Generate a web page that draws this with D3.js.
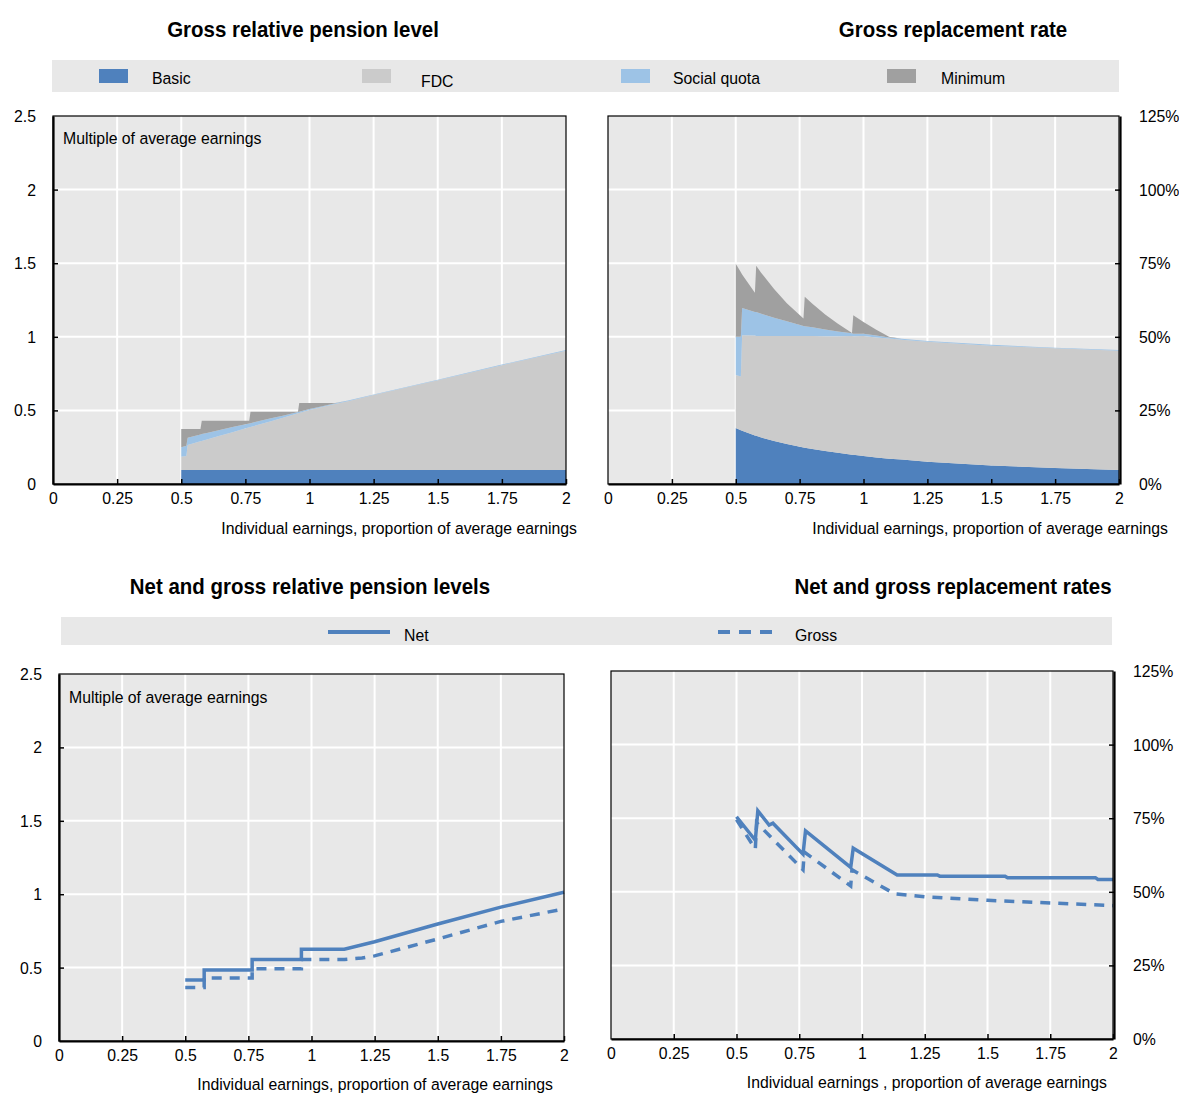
<!DOCTYPE html>
<html>
<head>
<meta charset="utf-8">
<script src="https://cdn.jsdelivr.net/npm/d3@7"></script>
<style>
body { margin: 0; background: #fff; }
text { font-family: "Liberation Sans", Arial, sans-serif; fill: #000; }
</style>
</head>
<body>
<div id="chart"></div>
<script>
// ---- data ----
var xTicks = [0, 0.25, 0.5, 0.75, 1, 1.25, 1.5, 1.75, 2];
var xTickLabels = ["0", "0.25", "0.5", "0.75", "1", "1.25", "1.5", "1.75", "2"];
var levelTicks = [0, 0.5, 1, 1.5, 2, 2.5];
var levelTickLabels = ["0", "0.5", "1", "1.5", "2", "2.5"];
var rateTicks = [0, 25, 50, 75, 100, 125];
var rateTickLabels = ["0%", "25%", "50%", "75%", "100%", "125%"];

var components = ["basic", "fdc", "social", "minimum"];
var componentNames = ["Basic", "FDC", "Social quota", "Minimum"];

// individual earnings (proportion of average earnings) for the stacked panels
var earnings = [0.5, 0.52, 0.525, 0.575, 0.58, 0.6, 0.65, 0.7, 0.765, 0.77, 0.8, 0.85, 0.9, 0.955, 0.96, 1.0, 1.05, 1.1, 1.15, 1.25, 1.5, 1.75, 2.0];

// gross relative pension level, multiple of average earnings
var levelBasic   = [0.095, 0.095, 0.095, 0.095, 0.095, 0.095, 0.095, 0.095, 0.095, 0.095, 0.095, 0.095, 0.095, 0.095, 0.095, 0.095, 0.095, 0.095, 0.095, 0.095, 0.095, 0.095, 0.095];
var levelFdc     = [0.09, 0.095, 0.17, 0.195, 0.197, 0.207, 0.232, 0.257, 0.29, 0.292, 0.307, 0.332, 0.357, 0.385, 0.387, 0.408, 0.428, 0.448, 0.468, 0.509, 0.61, 0.712, 0.811];
var levelSocial  = [0.065, 0.07, 0.049, 0.046, 0.047, 0.045, 0.04, 0.035, 0.026, 0.026, 0.024, 0.019, 0.014, 0.009, 0.008, 0.007, 0.006, 0.005, 0.004, 0.004, 0.004, 0.004, 0.004];
var levelMinimum = [0.124, 0.114, 0.06, 0.038, 0.091, 0.083, 0.063, 0.043, 0.019, 0.077, 0.064, 0.044, 0.024, 0.001, 0.06, 0.04, 0.021, 0.002, 0, 0, 0, 0, 0];

// gross replacement rate, %
var rateBasic   = [19, 18.3, 18.1, 16.5, 16.4, 15.8, 14.6, 13.6, 12.4, 12.3, 11.9, 11.2, 10.6, 9.9, 9.9, 9.5, 9.0, 8.6, 8.3, 7.6, 6.3, 5.4, 4.75];
var rateFdc     = [18, 18.2, 32.4, 33.9, 33.9, 34.5, 35.7, 36.7, 37.9, 38.0, 38.35, 39.0, 39.6, 40.4, 40.3, 40.8, 40.8, 40.8, 40.7, 40.7, 40.7, 40.7, 40.55];
var rateSocial  = [13, 13.5, 9.3, 8.0, 8.1, 7.5, 6.2, 5.0, 3.4, 3.3, 3.0, 2.3, 1.6, 0.9, 0.8, 0.7, 0.6, 0.4, 0.3, 0.3, 0.3, 0.2, 0.2];
var rateMinimum = [24.8, 21.9, 11.4, 6.6, 15.7, 13.9, 9.7, 6.1, 2.5, 10.0, 8.0, 5.1, 2.6, 0.1, 6.3, 4.0, 2.0, 0.2, 0, 0, 0, 0, 0];

// net and gross relative pension levels
var netLevelX  = [0.5, 0.575, 0.575, 0.765, 0.765, 0.96, 0.96, 1.13, 1.25, 1.5, 1.75, 2.0];
var netLevel   = [0.415, 0.415, 0.484, 0.484, 0.556, 0.556, 0.625, 0.625, 0.676, 0.797, 0.912, 1.013];
var grossLevelX = [0.5, 0.575, 0.575, 0.765, 0.765, 0.96, 0.96, 1.13, 1.2, 1.25, 1.5, 1.75, 2.0];
var grossLevel  = [0.365, 0.365, 0.43, 0.43, 0.493, 0.493, 0.555, 0.555, 0.565, 0.58, 0.695, 0.815, 0.9];

// net and gross replacement rates, %
var netRateX = [0.5, 0.575, 0.585, 0.63, 0.645, 0.765, 0.775, 0.955, 0.965, 1.14, 1.3, 1.31, 1.57, 1.58, 1.93, 1.94, 2.0];
var netRate  = [75.5, 67.5, 77.5, 72.7, 73.3, 62.8, 70.7, 58.3, 64.8, 55.7, 55.7, 55.3, 55.3, 54.8, 54.8, 54.2, 54.2];
var grossRateX = [0.5, 0.575, 0.58, 0.765, 0.77, 0.955, 0.96, 1.13, 1.25, 1.5, 1.75, 2.0];
var grossRate  = [74.5, 64.5, 73.5, 57.5, 63.5, 52, 57.5, 49.3, 48.3, 47.1, 46.2, 45.3];

// ---- drawing ----
var width = 1179, height = 1093;
var blue = "#4f81bd";
var color = d3.scaleOrdinal().domain(components).range([blue, "#cbcbcb", "#9dc3e6", "#a0a0a0"]);

var svg = d3.select("#chart").append("svg")
  .attr("width", width)
  .attr("height", height);

function panel(p) {
  var x = d3.scaleLinear().domain([0, 2]).range([p.l, p.r]);
  var y = d3.scaleLinear().domain([0, p.ymax]).range([p.b, p.t]);
  var g = svg.append("g");
  g.append("rect")
    .attr("x", p.l).attr("y", p.t)
    .attr("width", p.r - p.l).attr("height", p.b - p.t)
    .attr("fill", "#e8e8e8");
  g.selectAll(".vgrid").data(xTicks.slice(1, -1)).join("line")
    .attr("x1", d => x(d)).attr("x2", d => x(d))
    .attr("y1", p.t).attr("y2", p.b)
    .attr("stroke", "#fff").attr("stroke-width", 2);
  g.selectAll(".hgrid").data(p.yticks.slice(1, -1)).join("line")
    .attr("y1", d => y(d)).attr("y2", d => y(d))
    .attr("x1", p.l).attr("x2", p.r)
    .attr("stroke", "#fff").attr("stroke-width", 2);
  var layer = g.append("g");
  return {g: g, layer: layer, x: x, y: y, p: p};
}

function axes(P) {
  var p = P.p, g = P.g;
  g.append("rect")
    .attr("x", p.l).attr("y", p.t)
    .attr("width", p.r - p.l).attr("height", p.b - p.t)
    .attr("fill", "none").attr("stroke", "#000").attr("stroke-width", 1.2);

  var xa = g.append("g")
    .attr("transform", "translate(0," + p.b + ")")
    .call(d3.axisBottom(P.x).tickValues(xTicks).tickSize(-5).tickSizeOuter(0).tickPadding(8)
      .tickFormat((d, i) => xTickLabels[i]));
  var ya;
  if (p.side === "left") {
    ya = g.append("g")
      .attr("transform", "translate(" + p.l + ",0)")
      .call(d3.axisLeft(P.y).tickValues(p.yticks).tickSize(-5).tickSizeOuter(0).tickPadding(17)
        .tickFormat((d, i) => p.ylabels[i]));
  } else {
    ya = g.append("g")
      .attr("transform", "translate(" + (p.r + 1) + ",0)")
      .call(d3.axisRight(P.y).tickValues(p.yticks).tickSize(-5).tickSizeOuter(0).tickPadding(19)
        .tickFormat((d, i) => p.ylabels[i]));
  }
  [xa, ya].forEach(function(a) {
    a.attr("font-family", null).attr("font-size", 17);
    a.select(".domain").attr("stroke", "#000").attr("stroke-width", 2.2);
    a.selectAll(".tick line").attr("stroke", "#000").attr("stroke-width", 1.5);
    a.selectAll(".tick text").attr("fill", "#000");
  });
  ya.selectAll(".tick").filter(d => d === 0 || d === p.ymax).select("line").remove();
  xa.selectAll(".tick").filter(d => d === 0).select("line").remove();
}

function stackedPanel(P, cols) {
  var rows = earnings.map(function(e, i) {
    var r = {earnings: e};
    components.forEach(function(k, j) { r[k] = cols[j][i]; });
    return r;
  });
  var series = d3.stack().keys(components)(rows);
  var area = d3.area()
    .x(d => P.x(d.data.earnings))
    .y0(d => P.y(d[0]))
    .y1(d => P.y(d[1]));
  P.layer.selectAll("path").data(series).join("path")
    .attr("d", area)
    .attr("fill", d => color(d.key));
}

function linePanel(P, sets) {
  var line = d3.line().x(d => P.x(d[0])).y(d => P.y(d[1]));
  sets.forEach(function(s) {
    P.layer.append("path")
      .datum(s.xs.map((v, i) => [v, s.ys[i]]))
      .attr("d", line)
      .attr("fill", "none")
      .attr("stroke", blue)
      .attr("stroke-width", 3.5)
      .attr("stroke-dasharray", s.dash ? "10,8" : null);
  });
}

// titles
function title(t, x, y) {
  svg.append("text").attr("x", x).attr("y", y)
    .attr("text-anchor", "middle")
    .attr("font-size", 22).attr("font-weight", "bold")
    .text(t);
}
title("Gross relative pension level", 303, 37);
title("Gross replacement rate", 953, 37);
title("Net and gross relative pension levels", 310, 594);
title("Net and gross replacement rates", 953, 594);

// legend: stacked components
svg.append("rect").attr("x", 52).attr("y", 60).attr("width", 1067).attr("height", 32).attr("fill", "#e8e8e8");
var legendSwatchX = [99, 362, 621, 887];
var legendTextX = [152, 421, 673, 941];
var legendTextY = [84, 87, 84, 84];
components.forEach(function(k, i) {
  svg.append("rect").attr("x", legendSwatchX[i]).attr("y", 69)
    .attr("width", 29).attr("height", 14).attr("fill", color(k));
  svg.append("text").attr("x", legendTextX[i]).attr("y", legendTextY[i])
    .attr("font-size", 17).text(componentNames[i]);
});

// legend: net / gross
svg.append("rect").attr("x", 61).attr("y", 617).attr("width", 1051).attr("height", 28).attr("fill", "#e8e8e8");
svg.append("line").attr("x1", 328).attr("x2", 390).attr("y1", 632).attr("y2", 632)
  .attr("stroke", blue).attr("stroke-width", 4);
svg.append("text").attr("x", 404).attr("y", 641).attr("font-size", 17).text("Net");
svg.append("line").attr("x1", 718).attr("x2", 780).attr("y1", 632).attr("y2", 632)
  .attr("stroke", blue).attr("stroke-width", 4).attr("stroke-dasharray", "12,9");
svg.append("text").attr("x", 795).attr("y", 641).attr("font-size", 17).text("Gross");

// panels
var p1 = panel({l: 53, r: 566, t: 116, b: 484, ymax: 2.5, yticks: levelTicks, ylabels: levelTickLabels, side: "left"});
stackedPanel(p1, [levelBasic, levelFdc, levelSocial, levelMinimum]);
axes(p1);

var p2 = panel({l: 608, r: 1119, t: 116, b: 484, ymax: 125, yticks: rateTicks, ylabels: rateTickLabels, side: "right"});
stackedPanel(p2, [rateBasic, rateFdc, rateSocial, rateMinimum]);
axes(p2);

var p3 = panel({l: 59, r: 564, t: 674, b: 1041, ymax: 2.5, yticks: levelTicks, ylabels: levelTickLabels, side: "left"});
linePanel(p3, [{xs: netLevelX, ys: netLevel}, {xs: grossLevelX, ys: grossLevel, dash: true}]);
axes(p3);

var p4 = panel({l: 611, r: 1113, t: 671, b: 1039, ymax: 125, yticks: rateTicks, ylabels: rateTickLabels, side: "right"});
linePanel(p4, [{xs: netRateX, ys: netRate}, {xs: grossRateX, ys: grossRate, dash: true}]);
axes(p4);

// in-plot and axis titles
function note(t, x, y, anchor) {
  svg.append("text").attr("x", x).attr("y", y)
    .attr("text-anchor", anchor || "start")
    .attr("font-size", 17).text(t);
}
note("Multiple of average earnings", 63, 144);
note("Multiple of average earnings", 69, 703);
note("Individual earnings, proportion of average earnings", 577, 534, "end");
note("Individual earnings, proportion of average earnings", 1168, 534, "end");
note("Individual earnings, proportion of average earnings", 553, 1090, "end");
note("Individual earnings , proportion of average earnings", 1107, 1088, "end");

// narrow face: squeeze Liberation Sans horizontally, like the original condensed font
svg.selectAll("text").each(function() {
  var t = d3.select(this);
  var x = +t.attr("x") || 0;
  t.attr("x", 0).attr("transform", "translate(" + x + ",0) scale(0.93,1)");
});
</script>
</body>
</html>
